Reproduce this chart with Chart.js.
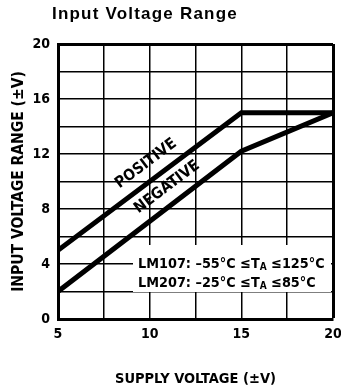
<!DOCTYPE html>
<html>
<head>
<meta charset="utf-8">
<script src="https://cdn.jsdelivr.net/npm/chart.js@4"></script>
<style>
  body { margin: 0; background: #fff; }
  #wrap { width: 341px; height: 392px; }
</style>
</head>
<body>
<div id="wrap"><canvas id="rangeChart" width="341" height="392"></canvas></div>
<script>
// Input voltage range vs supply voltage (LM107/LM207)
const supplyVoltage = [5, 15, 20];
const positiveRange = [5, 15, 15];
const negativeRange = [2, 12.2, 15];

const xTickLabels = [5, 10, 15, 20];
const yTickLabels = [0, 4, 8, 12, 16, 20];

const narrow = "'Liberation Sans Narrow', 'DejaVu Sans Condensed', sans-serif";

function toPoints(ys) {
  return supplyVoltage.map((x, i) => ({ x: x, y: ys[i] }));
}

// Title, curve labels and the temperature note
const annotations = {
  id: "annotations",
  beforeDatasetsDraw(chart) {
    const { ctx } = chart;
    // white box behind the note (hides the grid)
    ctx.save();
    ctx.fillStyle = "#fff";
    ctx.fillRect(133, 245, 198, 47);
    ctx.restore();
  },
  afterDraw(chart) {
    const { ctx, scales: { x, y } } = chart;
    ctx.save();
    ctx.fillStyle = "#000";

    ctx.font = "bold 17px 'Liberation Sans', Arial, sans-serif";
    ctx.letterSpacing = "1.2px";
    ctx.textBaseline = "alphabetic";
    ctx.textAlign = "left";
    ctx.fillText("Input Voltage Range", 52, 19);
    ctx.letterSpacing = "0px";

    const angle = -Math.atan((y.getPixelForValue(0) - y.getPixelForValue(1)) / (x.getPixelForValue(6) - x.getPixelForValue(5)));
    ctx.font = "bold 15.5px " + narrow;
    ctx.textAlign = "center";
    ctx.textBaseline = "middle";
    [["POSITIVE", 9.8, 11.3], ["NEGATIVE", 10.95, 9.6]].forEach(([txt, vx, vy]) => {
      ctx.save();
      ctx.translate(x.getPixelForValue(vx), y.getPixelForValue(vy));
      ctx.rotate(angle);
      ctx.fillText(txt, 0, 0);
      ctx.restore();
    });

    // LM107 / LM207 note with subscript A
    ctx.textAlign = "left";
    ctx.textBaseline = "alphabetic";
    const notes = [["LM107: \u201355\u00B0C \u2264T", " \u2264125\u00B0C", 268],
                   ["LM207: \u201325\u00B0C \u2264T", " \u226485\u00B0C", 287]];
    notes.forEach(([a, b, by]) => {
      let px = 138;
      ctx.font = "bold 14.3px " + narrow;
      ctx.fillText(a, px, by);
      px += ctx.measureText(a).width;
      ctx.font = "bold 10px " + narrow;
      ctx.fillText("A", px, by + 2);
      px += ctx.measureText("A").width;
      ctx.font = "bold 14.3px " + narrow;
      ctx.fillText(b, px, by);
    });
    ctx.restore();
  }
};

new Chart(document.getElementById("rangeChart").getContext("2d"), {
  type: "line",
  data: {
    datasets: [
      { label: "Positive", data: toPoints(positiveRange), borderColor: "#000", borderWidth: 5, pointRadius: 0, tension: 0, fill: false },
      { label: "Negative", data: toPoints(negativeRange), borderColor: "#000", borderWidth: 5, pointRadius: 0, tension: 0, fill: false }
    ]
  },
  options: {
    responsive: false,
    animation: false,
    devicePixelRatio: 1,
    layout: { padding: { top: 44, right: 8, left: 0, bottom: 0 } },
    plugins: { legend: { display: false }, tooltip: { enabled: false } },
    scales: {
      x: {
        type: "linear", min: 5, max: 20,
        ticks: {
          stepSize: 2.5, autoSkip: false, maxRotation: 0, padding: 7, color: "#000",
          font: { family: narrow, size: 14, weight: "bold" },
          callback: v => xTickLabels.includes(v) ? v : ""
        },
        grid: { color: "#000", lineWidth: c => c.tick && c.tick.value === 20 ? 3 : 1.5, drawTicks: false },
        border: { color: "#000", width: 3 },
        title: {
          display: true, text: "SUPPLY VOLTAGE (\u00B1V)", color: "#000",
          font: { family: narrow, size: 14.5, weight: "bold" },
          padding: { top: 0, bottom: 4 }
        },
        afterFit: s => { s.height = 73; s.paddingRight = 0; s.paddingLeft = 0; }
      },
      y: {
        min: 0, max: 20,
        ticks: {
          stepSize: 2, autoSkip: false, padding: 8, color: "#000",
          font: { family: narrow, size: 14, weight: "bold" },
          callback: v => yTickLabels.includes(v) ? v : ""
        },
        grid: { color: "#000", lineWidth: c => c.tick && c.tick.value === 20 ? 3 : 1.5, drawTicks: false },
        border: { color: "#000", width: 3 },
        title: {
          display: true, text: "INPUT VOLTAGE RANGE (\u00B1V)", color: "#000",
          font: { family: narrow, size: 15.5, weight: "bold" },
          padding: { top: 10, bottom: 0 }
        },
        afterFit: s => { s.width = 58; s.paddingTop = 0; s.paddingBottom = 0; }
      }
    }
  },
  plugins: [annotations]
});
</script>
</body>
</html>
